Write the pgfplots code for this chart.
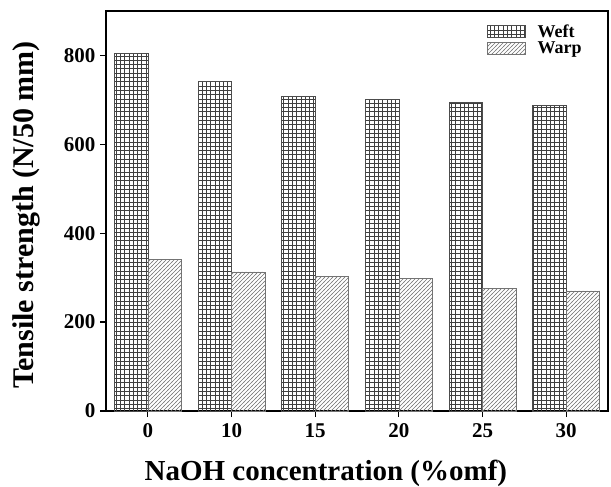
\documentclass[border=0pt]{standalone}
\usepackage{fontspec}
\setmainfont{Liberation Serif}
\usepackage{pgfplots}
\pgfplotsset{compat=1.18}
\usetikzlibrary{patterns}

\pgfdeclarepatternformonly{finegrid}{\pgfqpoint{-1pt}{-1pt}}{\pgfqpoint{5.3pt}{5.3pt}}{\pgfqpoint{4.3pt}{4.3pt}}{%
 \pgfsetlinewidth{0.9pt}%
 \pgfpathmoveto{\pgfqpoint{0pt}{-0.5pt}}\pgfpathlineto{\pgfqpoint{0pt}{4.8pt}}%
 \pgfpathmoveto{\pgfqpoint{-0.5pt}{0pt}}\pgfpathlineto{\pgfqpoint{4.8pt}{0pt}}%
 \pgfusepath{stroke}}

\pgfdeclarepatternformonly{finene}{\pgfqpoint{-1pt}{-1pt}}{\pgfqpoint{5pt}{5pt}}{\pgfqpoint{4pt}{4pt}}{%
 \pgfsetlinewidth{0.6pt}%
 \pgfpathmoveto{\pgfqpoint{-0.5pt}{-0.5pt}}\pgfpathlineto{\pgfqpoint{4.5pt}{4.5pt}}%
 \pgfusepath{stroke}}

\begin{document}
\begin{tikzpicture}
\begin{axis}[
  scale only axis, width=502pt, height=400pt,
  xmin=-0.5, xmax=5.5, ymin=0, ymax=900,
  xtick={0,1,2,3,4,5}, xticklabels={0,10,15,20,25,30},
  ytick={0,200,400,600,800},
  tick align=outside, xtick pos=bottom, ytick pos=left,
  major tick length=6pt,
  axis line style={line width=1.5pt},
  every tick/.style={black, line width=1.3pt},
  /pgf/number format/assume math mode=true,
  ticklabel style={font=\bfseries\fontsize{21}{21}\selectfont},
  xticklabel style={yshift=-3pt},
  yticklabel style={xshift=-1pt},
  xlabel={NaOH concentration (\%omf)},
  ylabel={Tensile strength (N/50 mm)},
  xlabel style={font=\bfseries\fontsize{29}{29}\selectfont, at={(axis description cs:0.438,0)}, anchor=base, yshift=-69pt},
  ylabel style={font=\bfseries\fontsize{30}{30}\selectfont, at={(axis description cs:-0.1454,0.49)}, anchor=base},
  legend image code/.code={\draw[#1] (0pt,-6pt) rectangle (38pt,6pt);},
  legend style={draw=none, fill=none, at={(axis description cs:0.952,0.972)}, anchor=north east,
    font=\bfseries\fontsize{18}{18}\selectfont, row sep=-0.5pt, inner sep=0pt,
    /tikz/every odd column/.append style={column sep=10pt}},
  legend cell align=left,
]
\addplot[ybar, bar width=0.4, bar shift=-0.2, draw=black!70, line width=0.6pt,
  pattern=finegrid, pattern color=black!75]
  coordinates {(0,805) (1,742) (2,708) (3,701) (4,695) (5,687)};
\addplot[ybar, bar width=0.4, bar shift=0.2, draw=black!55, line width=0.6pt,
  pattern=finene, pattern color=black!55]
  coordinates {(0,341) (1,313) (2,303) (3,299) (4,276) (5,270)};
\legend{Weft, Warp}
\end{axis}
\pgfresetboundingbox
\useasboundingbox ([xshift=-106pt,yshift=-75pt]current axis.south west) rectangle ([xshift=3pt,yshift=11pt]current axis.north east);
\end{tikzpicture}
\end{document}
